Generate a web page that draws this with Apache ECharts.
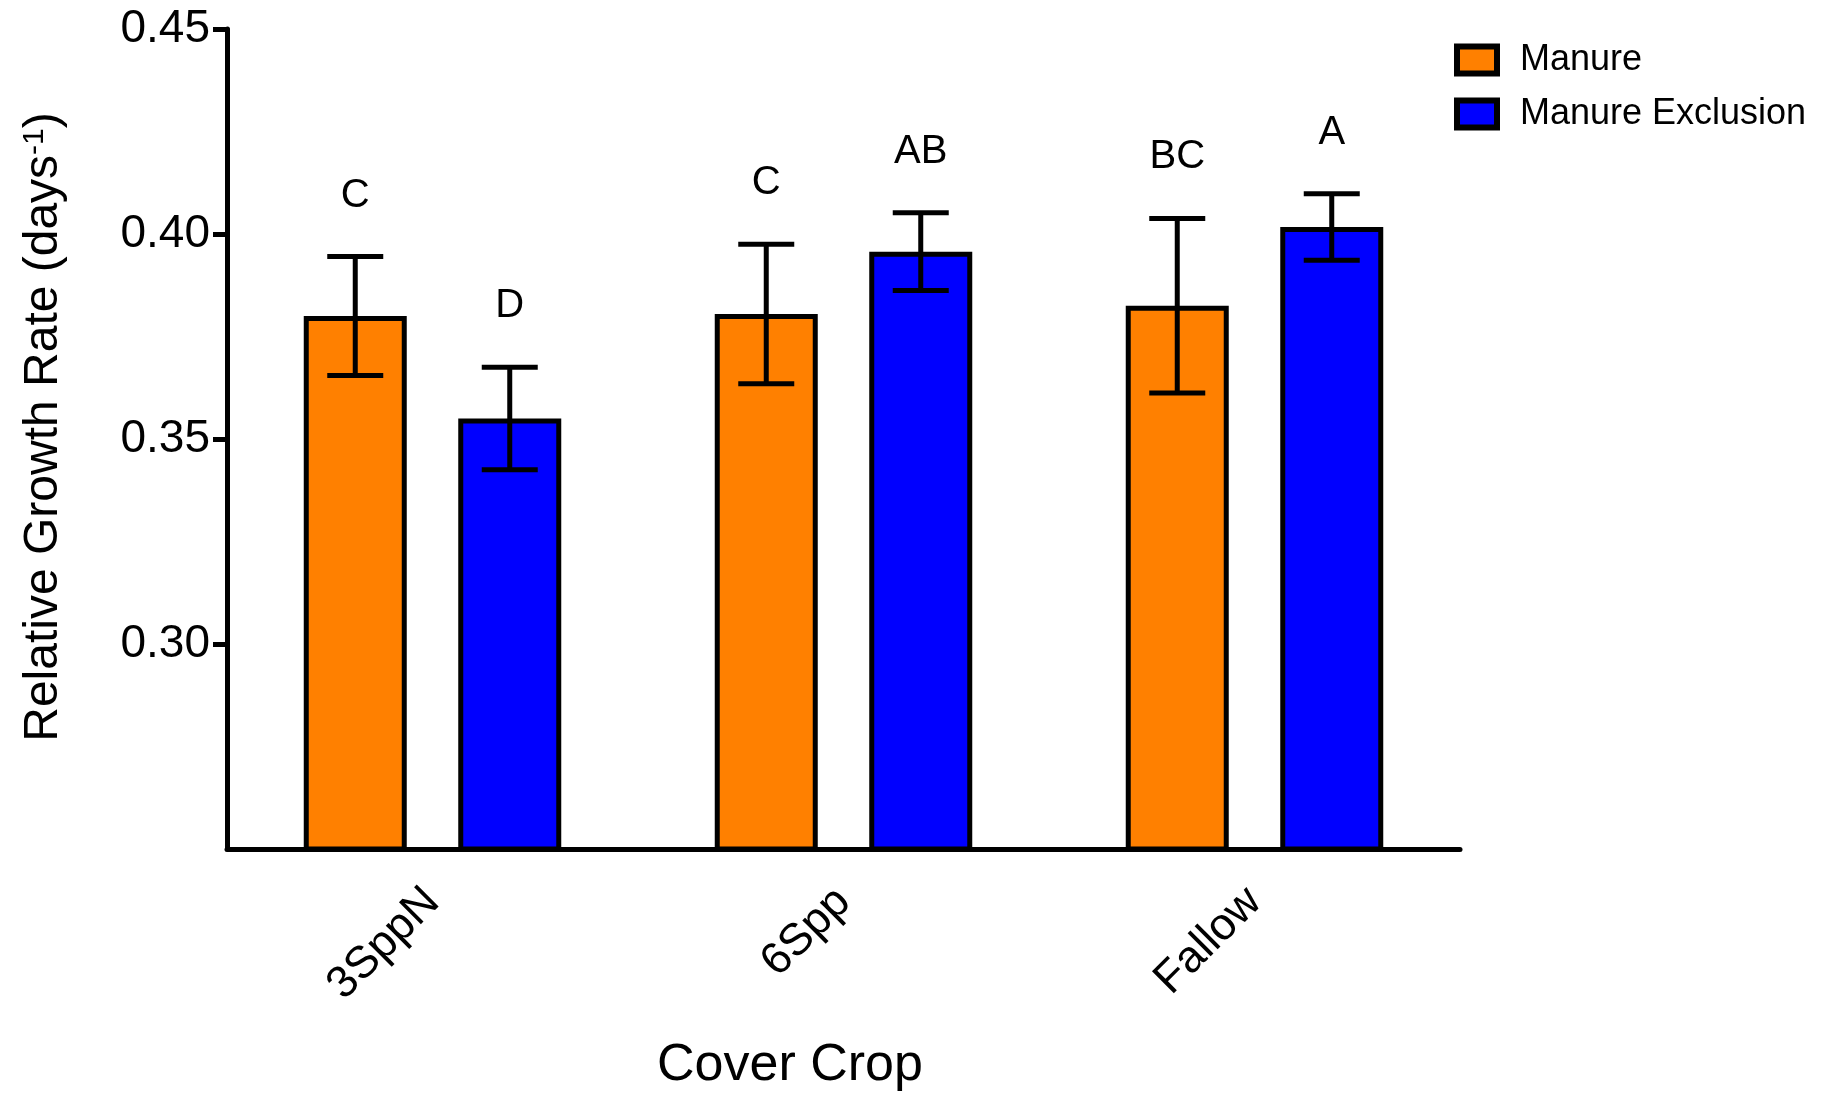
<!DOCTYPE html>
<html>
<head>
<meta charset="utf-8">
<style>
  html, body { margin: 0; padding: 0; background: #fff; }
  #chart { width: 1832px; height: 1098px; }
</style>
<script src="https://cdn.jsdelivr.net/npm/echarts@6/dist/echarts.min.js"></script>
</head>
<body>
<div id="chart"></div>
<script>
// Relative growth rate by cover crop, with and without manure
const categories = ['3SppN', '6Spp', 'Fallow'];
const seriesNames = ['Manure', 'Manure Exclusion'];
const manureMean = [0.380, 0.3805, 0.3825];
const manureSem = [0.0145, 0.017, 0.0213];
const exclusionMean = [0.355, 0.3957, 0.4017];
const exclusionSem = [0.0125, 0.0095, 0.0081];
const manureLetters = ['C', 'C', 'BC'];
const exclusionLetters = ['D', 'AB', 'A'];
const yTicks = [0.30, 0.35, 0.40, 0.45];

const FONT = '"Liberation Sans", Arial, Helvetica, sans-serif';
const BAR_W = 103;
const BAR_GAP = 0.5;
const HALF_PAIR = BAR_W * (1 + BAR_GAP) / 2; // distance of each bar centre from the category centre

function errorSeries(means, sems, letters, shift) {
  return {
    type: 'custom',
    z: 5,
    data: means.map((m, i) => [i, m - sems[i], m + sems[i]]),
    encode: { x: 0, y: [1, 2] },
    renderItem: function (params, api) {
      const c = api.value(0);
      const lo = api.coord([c, api.value(1)]);
      const hi = api.coord([c, api.value(2)]);
      const x = lo[0] + shift;
      const cap = 28;
      const stroke = { stroke: '#000', lineWidth: 5 };
      return {
        type: 'group',
        children: [
          { type: 'line', shape: { x1: x, y1: lo[1], x2: x, y2: hi[1] }, style: stroke },
          { type: 'line', shape: { x1: x - cap, y1: hi[1], x2: x + cap, y2: hi[1] }, style: stroke },
          { type: 'line', shape: { x1: x - cap, y1: lo[1], x2: x + cap, y2: lo[1] }, style: stroke },
          {
            type: 'text',
            x: x, y: hi[1] - 61,
            style: {
              text: letters[params.dataIndex],
              font: '40px ' + FONT,
              fill: '#000',
              align: 'center',
              verticalAlign: 'middle'
            }
          }
        ]
      };
    }
  };
}

const chart = echarts.init(document.getElementById('chart'));
chart.setOption({
  backgroundColor: '#fff',
  animation: false,
  grid: { left: 227, right: 372, top: 29, bottom: 249, containLabel: false },
  legend: {
    data: seriesNames,
    orient: 'vertical',
    left: 1449,
    top: 37,
    icon: 'rect',
    itemWidth: 40,
    itemHeight: 27,
    itemGap: 18,
    itemStyle: { borderColor: '#000', borderWidth: 6 },
    textStyle: { fontFamily: FONT, fontSize: 36, color: '#000', padding: [0, 0, 0, 18] }
  },
  xAxis: {
    type: 'category',
    data: categories,
    axisLine: { lineStyle: { color: '#000', width: 5 } },
    axisTick: { alignWithLabel: true, length: 14, lineStyle: { color: '#000', width: 5 } },
    axisLabel: { rotate: 45, margin: 46, fontFamily: FONT, fontSize: 45, color: '#000' }
  },
  yAxis: {
    type: 'value',
    min: 0.25,
    max: 0.45,
    interval: 0.05,
    splitLine: { show: false },
    axisLine: { show: true, lineStyle: { color: '#000', width: 5 } },
    axisTick: { show: true, length: 14, customValues: yTicks, lineStyle: { color: '#000', width: 5 } },
    axisLabel: {
      customValues: yTicks,
      margin: 17,
      fontFamily: FONT,
      fontSize: 46,
      color: '#000',
      formatter: v => v.toFixed(2)
    }
  },
  graphic: [
    {
      type: 'text',
      x: 44, y: 427,
      rotation: Math.PI / 2,
      style: {
        text: 'Relative Growth Rate (days{sup|-1})',
        font: '48px ' + FONT,
        fill: '#000',
        align: 'center',
        verticalAlign: 'middle',
        rich: {
          sup: { fontSize: 30, fontFamily: FONT, verticalAlign: 'top', fill: '#000' }
        }
      }
    },
    {
      type: 'text',
      x: 790, y: 1066,
      style: {
        text: 'Cover Crop',
        font: '52px ' + FONT,
        fill: '#000',
        align: 'center',
        verticalAlign: 'middle'
      }
    }
  ],
  series: [
    {
      name: seriesNames[0],
      type: 'bar',
      data: manureMean,
      barWidth: BAR_W,
      barGap: (BAR_GAP * 100) + '%',
      itemStyle: { color: '#FF8000', borderColor: '#000', borderWidth: 5 }
    },
    {
      name: seriesNames[1],
      type: 'bar',
      data: exclusionMean,
      barWidth: BAR_W,
      barGap: (BAR_GAP * 100) + '%',
      itemStyle: { color: '#0000FF', borderColor: '#000', borderWidth: 5 }
    },
    errorSeries(manureMean, manureSem, manureLetters, -HALF_PAIR),
    errorSeries(exclusionMean, exclusionSem, exclusionLetters, HALF_PAIR)
  ]
});
</script>
</body>
</html>
